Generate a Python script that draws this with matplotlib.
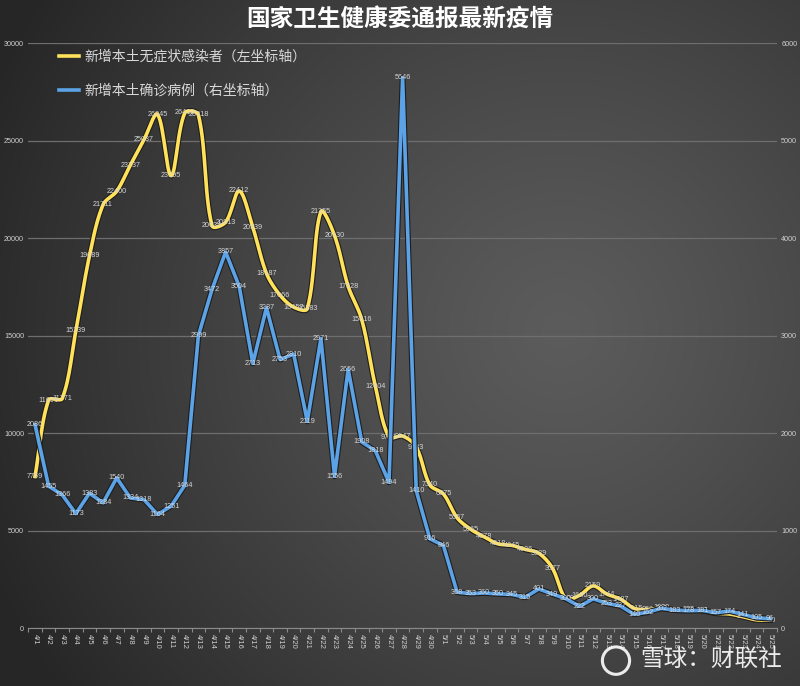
import numpy as np
import matplotlib.pyplot as plt
import matplotlib.patheffects as pe
from matplotlib.patches import Ellipse

plt.rcParams['font.family'] = ['Noto Sans CJK SC', 'DejaVu Sans']

# === 数据 ===
dates = ['4/1', '4/2', '4/3', '4/4', '4/5', '4/6', '4/7', '4/8', '4/9', '4/10',
         '4/11', '4/12', '4/13', '4/14', '4/15', '4/16', '4/17', '4/18', '4/19', '4/20',
         '4/21', '4/22', '4/23', '4/24', '4/25', '4/26', '4/27', '4/28', '4/29', '4/30',
         '5/1', '5/2', '5/3', '5/4', '5/5', '5/6', '5/7', '5/8', '5/9', '5/10',
         '5/11', '5/12', '5/13', '5/14', '5/15', '5/16', '5/17', '5/18', '5/19', '5/20',
         '5/21', '5/22', '5/23', '5/24', '5/25']

asymptomatic = [7769, 11691, 11771, 15239, 19089, 21711, 22400, 23737, 25037, 26345,
                23195, 26412, 26318, 20634, 20813, 22412, 20539, 18187, 17066, 16457,
                16383, 21355, 20130, 17528, 15816, 12404, 9791, 9847, 9283, 7340,
                6875, 5657, 5065, 4678, 4318, 4245, 4036, 3839, 3077, 1500,
                1680, 2159, 1744, 1487, 1015, 950, 1030, 920, 925, 900,
                760, 720, 580, 420, 410]

confirmed = [2086, 1455, 1366, 1173, 1383, 1284, 1540, 1334, 1318, 1164,
             1251, 1464, 2999, 3472, 3857, 3504, 2713, 3287, 2753, 2810,
             2119, 2971, 1556, 2656, 1908, 1818, 1494, 5646, 1410, 916,
             846, 368, 353, 360, 350, 345, 315, 401, 349, 300,
             222, 300, 253, 227, 140, 162, 202, 183, 178, 181,
             157, 174, 141, 105, 96]

left_ticks = [0, 5000, 10000, 15000, 20000, 25000, 30000]
right_ticks = [0, 1000, 2000, 3000, 4000, 5000, 6000]

yellow = '#FFE15A'
blue = '#5BA3E6'
label_color = '#d6d6d6'
num_font = ['Liberation Sans', 'DejaVu Sans']


def smooth(vals, n=16, xscale=13.6, yscale=97.5 / 5000, tension=1 / 3):
    # courbe lissée façon Excel : tangentes pondérées par la longueur des segments
    p = np.column_stack([np.arange(len(vals)) * xscale, np.array(vals, dtype=float) * yscale])
    m = len(p)
    ctrl_out, ctrl_in = [], []
    for i in range(m):
        prev = p[i - 1] if i > 0 else p[i]
        nxt = p[i + 1] if i < m - 1 else p[i]
        d0 = np.linalg.norm(p[i] - prev)
        d1 = np.linalg.norm(nxt - p[i])
        tan = nxt - prev
        tot = d0 + d1 if d0 + d1 > 0 else 1
        ctrl_in.append(p[i] - tan * tension * d0 / tot)
        ctrl_out.append(p[i] + tan * tension * d1 / tot)
    t = np.linspace(0, 1, n)[:, None]
    pts = []
    for i in range(m - 1):
        p1, p2 = p[i], p[i + 1]
        c1, c2 = ctrl_out[i], ctrl_in[i + 1]
        b = ((1 - t) ** 3) * p1 + 3 * ((1 - t) ** 2) * t * c1 + 3 * (1 - t) * t ** 2 * c2 + t ** 3 * p2
        pts.append(b)
    pts = np.vstack(pts)
    return pts[:, 0] / xscale, pts[:, 1] / yscale


fig = plt.figure(figsize=(8, 6.86), dpi=100)

# fond dégradé
bg = fig.add_axes([0, 0, 1, 1], zorder=-10)
yy, xx = np.mgrid[0:686, 0:800]
d = np.sqrt((xx - 560) ** 2 + (yy - 330) ** 2) / 620
d = np.clip(d, 0, 1) ** 1.2
grey = 0.36 * (1 - d) + 0.15 * d
bg.imshow(np.dstack([grey, grey, grey]), aspect='auto', extent=[0, 1, 0, 1])
bg.axis('off')

ax = fig.add_axes([0.03525, 0.0845, 0.936, 0.8528])
ax.patch.set_alpha(0)
ax2 = ax.twinx()
ax2.patch.set_alpha(0)

x = np.arange(len(dates))
stroke = [pe.withStroke(linewidth=4.2, foreground='#1e1e1e')]

sx, sy = smooth(asymptomatic)
l1, = ax.plot(sx, sy, color=yellow, lw=2.6, path_effects=stroke, zorder=3,
              label='新增本土无症状感染者（左坐标轴）')
l2, = ax2.plot(x, confirmed, color=blue, lw=2.6, path_effects=stroke, zorder=3,
               label='新增本土确诊病例（右坐标轴）')

for i, v in enumerate(asymptomatic):
    ax.text(i, v, str(v), fontsize=5.2, color=label_color, ha='center', va='center',
            family=num_font, zorder=5)
for i, v in enumerate(confirmed):
    ax2.text(i, v, str(v), fontsize=5.2, color=label_color, ha='center', va='center',
             family=num_font, zorder=5)

ax.set_xlim(-0.5, len(dates) - 0.5)
ax.set_ylim(0, 30000)
ax2.set_ylim(0, 6000)
ax.set_yticks(left_ticks)
ax.set_yticklabels([str(v) for v in left_ticks], fontsize=5.2, color='#cfcfcf', family=num_font)
ax2.set_yticks(right_ticks)
ax2.set_yticklabels([str(v) for v in right_ticks], fontsize=5.2, color='#cfcfcf', family=num_font)
ax.set_xticks(x)
ax.set_xticklabels(dates, rotation=-90, fontsize=5.5, color='#cfcfcf', family=num_font, va='top')
ax.set_xticks(np.arange(len(dates) + 1) - 0.5, minor=True)
ax.tick_params(axis='x', which='major', length=0, pad=4)
ax.tick_params(axis='x', which='minor', length=3, color='#8a8a8a', width=0.8)
ax.tick_params(axis='y', length=0, pad=3)
ax2.tick_params(axis='y', length=0, pad=3)
ax.grid(axis='y', color='#6e6e6e', lw=0.9)
ax.set_axisbelow(True)

for a in (ax, ax2):
    for s in a.spines.values():
        s.set_visible(False)
ax.spines['bottom'].set_visible(True)
ax.spines['bottom'].set_color('#8a8a8a')
ax.spines['bottom'].set_linewidth(0.8)

leg = ax2.legend(handles=[l1, l2], loc='upper left', bbox_to_anchor=(0.058, 0.946),
                 bbox_transform=fig.transFigure, frameon=False, fontsize=10,
                 handlelength=1.45, handletextpad=0.4, labelspacing=1.45)
for t in leg.get_texts():
    t.set_color('#d8d8d8')
for h in leg.get_lines():
    h.set_path_effects([])
    h.set_linewidth(2.6)

fig.text(0.5, 0.972, '国家卫生健康委通报最新疫情', ha='center', va='center',
         fontsize=17, fontweight='bold', color='white')

# filigrane
fig.text(0.80, 0.037, '雪球：财联社', ha='left', va='center', fontsize=17,
         color='white', alpha=0.9)
fig.add_artist(Ellipse((0.77, 0.037), 0.034, 0.04, transform=fig.transFigure,
                       fill=False, ec='white', lw=2.2, alpha=0.9))

plt.savefig('out.png', dpi=100)
